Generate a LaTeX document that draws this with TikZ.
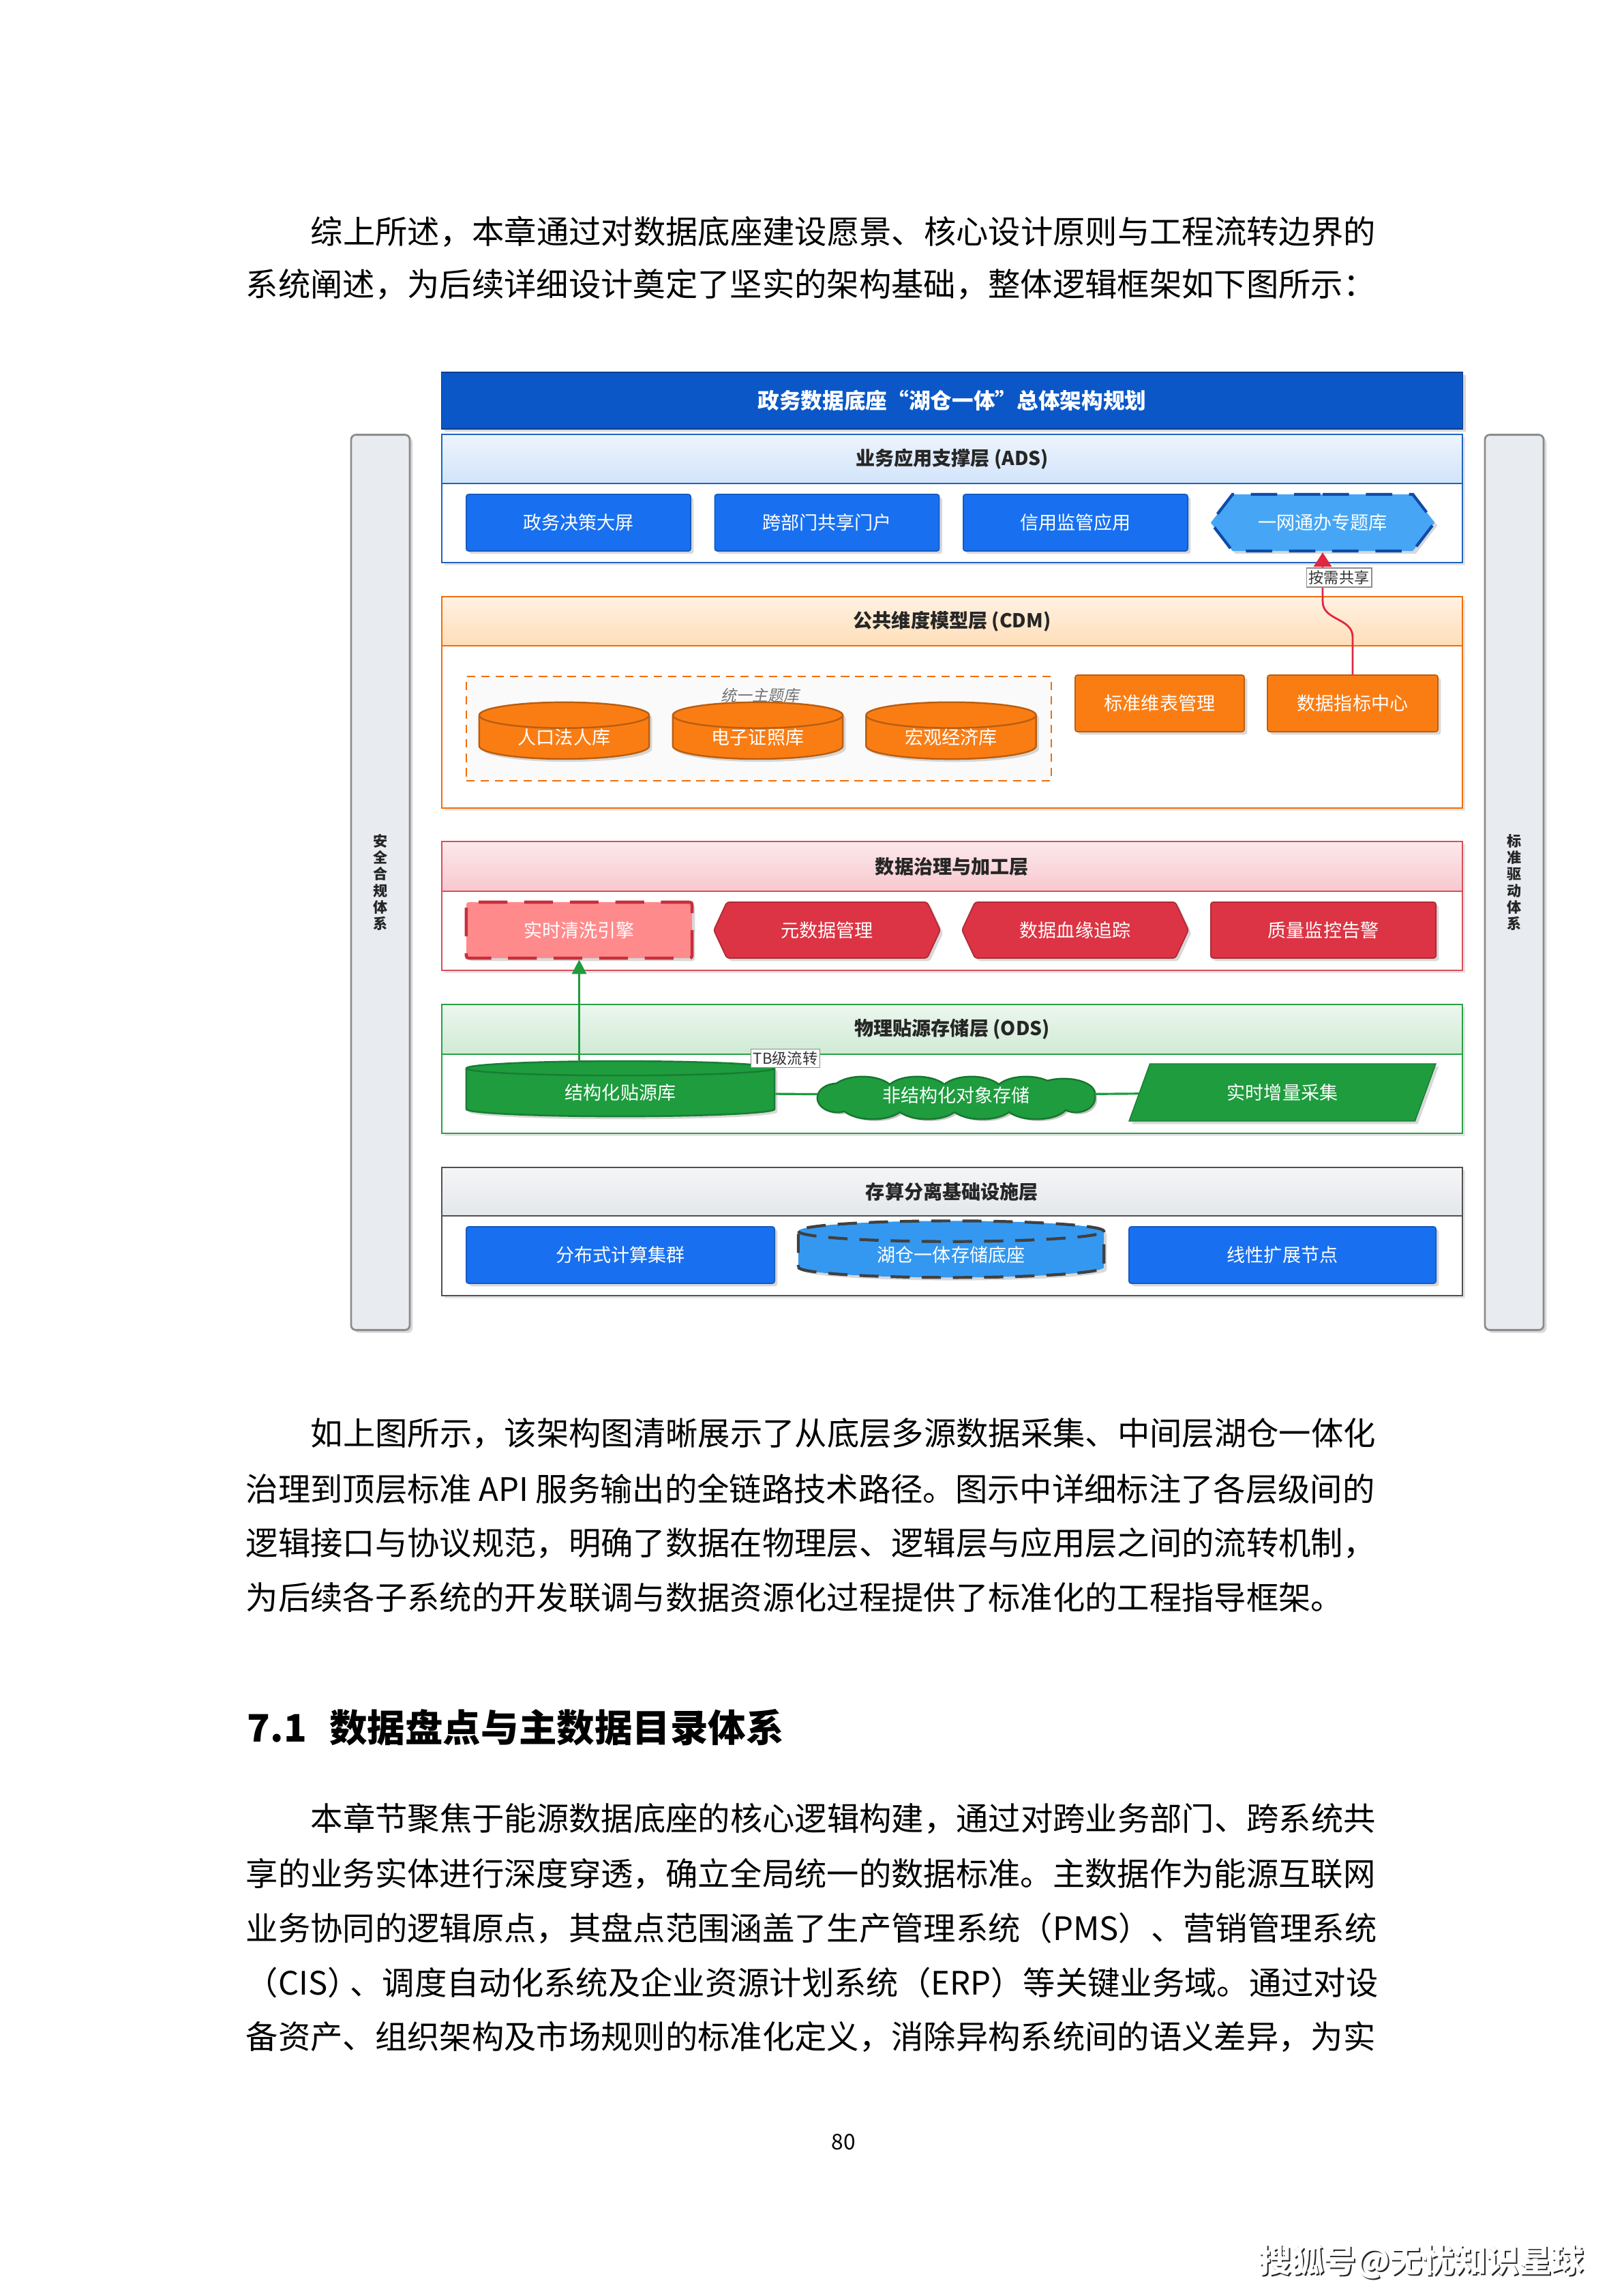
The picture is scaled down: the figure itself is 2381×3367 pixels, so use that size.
\documentclass[tikz,border=0pt]{standalone}
\usepackage{fontspec}
\setmainfont{Noto Sans CJK SC}
\newfontfamily\cjkslant[FakeSlant=0.2]{Noto Sans CJK SC}
\usetikzlibrary{positioning,shapes.geometric,shapes.symbols,arrows.meta,calc,shadows}
\definecolor{titleblue}{RGB}{11,87,200}
\definecolor{appblue}{RGB}{24,112,240}
\definecolor{adsline}{RGB}{30,100,190}
\definecolor{adshead}{RGB}{210,228,250}
\definecolor{hexblue}{RGB}{70,166,245}
\definecolor{hexline}{RGB}{15,75,170}
\definecolor{cdmline}{RGB}{240,110,10}
\definecolor{cdmhead}{RGB}{255,222,184}
\definecolor{cdmfill}{RGB}{250,125,20}
\definecolor{govline}{RGB}{215,80,90}
\definecolor{govhead}{RGB}{247,200,206}
\definecolor{govfill}{RGB}{220,52,68}
\definecolor{cleanfill}{RGB}{255,138,140}
\definecolor{odsline}{RGB}{40,160,70}
\definecolor{odshead}{RGB}{208,234,213}
\definecolor{odsfill}{RGB}{30,156,62}
\definecolor{infline}{RGB}{80,80,80}
\definecolor{infhead}{RGB}{228,231,235}
\definecolor{lakeblue}{RGB}{52,152,240}
\definecolor{sidefill}{RGB}{232,236,240}
\definecolor{shareline}{RGB}{222,40,66}
\newcommand{\boxfont}{\fontsize{7.7pt}{9pt}\selectfont}
% layer frame: top, header bottom, bottom, colour prefix, name, label
\newcommand{\archlayer}[6]{%
  \fill[white,drop shadow={opacity=0.2,shadow xshift=1.2pt,shadow yshift=-1.2pt}] (648,#1) rectangle (2145,#3);%
  \shade[top color=#4head!40,bottom color=#4head] (648,#1) rectangle (2145,#2);%
  \draw[#4line,line width=0.7pt] (648,#1) rectangle (2145,#3) (648,#2) -- (2145,#2);%
  \node[layerhead] (#5) at (1396.5,{0.5*(#1+#2)}) {#6};}

\begin{document}
\begin{tikzpicture}[x=0.01cm,y=-0.01cm,
  bodyline/.style={anchor=west,inner sep=0pt,font=\fontsize{13.46pt}{16pt}\selectfont},
  layerhead/.style={font=\fontsize{8pt}{10pt}\selectfont\bfseries,text=black!85},
  boxshadow/.style={drop shadow={opacity=0.3,shadow xshift=1.2pt,shadow yshift=-1.2pt}},
  appbox/.style={rectangle,rounded corners=1pt,fill=appblue,draw=appblue!80!black,line width=0.5pt,
    text=white,font=\boxfont,minimum height=0.83cm,inner sep=0pt,boxshadow},
  hexbox/.style={signal,signal to=west and east,signal pointer angle=105,fill=hexblue,draw=hexline,
    line width=1.2pt,dash pattern=on 11pt off 7pt,minimum width=3.28cm,minimum height=0.83cm,
    text=white,font=\boxfont,inner sep=0pt,boxshadow},
  groupbox/.style={draw=cdmline,fill=black!2,line width=0.6pt,dash pattern=on 3.5pt off 2.5pt},
  cdmdb/.style={cylinder,shape border rotate=90,aspect=0.28,minimum width=2.49cm,minimum height=0.83cm,
    fill=cdmfill,draw=cdmfill!75!black,line width=0.7pt,text=white,font=\boxfont,inner sep=0pt,boxshadow},
  cdmbox/.style={appbox,fill=cdmfill,draw=cdmfill!75!black},
  govbox/.style={appbox,fill=govfill,draw=govfill!80!black,minimum width=3.3cm,minimum height=0.82cm},
  govsig/.style={govbox,signal,signal to=west and east,signal pointer angle=130,minimum width=3.32cm},
  cleanbox/.style={govbox,fill=cleanfill,draw=govfill!90!black,line width=1.3pt,
    dash pattern=on 12pt off 7pt,minimum width=3.31cm},
  odsdb/.style={cdmdb,aspect=0.13,minimum width=4.52cm,minimum height=0.81cm,fill=odsfill,draw=odsfill!80!black},
  cloudtext/.style={inner sep=0pt,minimum width=4.05cm,minimum height=0.64cm,text=white,font=\boxfont},
  odspara/.style={trapezium,trapezium left angle=63,trapezium right angle=117,trapezium stretches=true,
    minimum width=4.5cm,minimum height=0.84cm,fill=odsfill,draw=odsfill!80!black,text=white,font=\boxfont,
    inner sep=0pt,boxshadow},
  lakedb/.style={cdmdb,aspect=0.14,minimum width=4.48cm,minimum height=0.83cm,fill=lakeblue,draw=black!75,
    line width=1.2pt,dash pattern=on 8pt off 5pt},
  sidebar/.style={rectangle,rounded corners=2pt,fill=sidefill,draw=black!45,line width=0.8pt,align=center,
    font=\fontsize{6pt}{6.9pt}\selectfont\bfseries,text=black!85,minimum width=0.86cm,minimum height=13.12cm,boxshadow},
  tag/.style={fill=white,draw=black!45,line width=0.4pt,inner sep=1pt,font=\fontsize{6.3pt}{7pt}\selectfont,text=black!80},
  sharelink/.style={shareline,line width=0.8pt,-{Triangle[length=6pt,width=7.5pt]}},
  growlink/.style={odsfill,line width=0.9pt,-{Triangle[length=6pt,width=6pt]}},
  odslink/.style={odsfill,line width=0.9pt}]
  % --- page ---
  \fill[white] (0,0) rectangle (2381,3367);
  \useasboundingbox (0,0) rectangle (2381,3367);
  % --- text above the figure ---
  \foreach \ly/\lx/\txt in {340/455/{综上所述，本章通过对数据底座建设愿景、核心设计原则与工程流转边界的},
        417/360/{系统阐述，为后续详细设计奠定了坚实的架构基础，整体逻辑框架如下图所示：}}{%
    \node[bodyline] (para\ly) at (\lx,\ly) {\txt};}
  % --- side bars ---
  \node[sidebar] (secbar) at (558,1294) {安\\全\\合\\规\\体\\系};
  \node[sidebar] (stdbar) at (2221,1294) {标\\准\\驱\\动\\体\\系};
  % --- title ---
  \node[fill=titleblue,draw=titleblue!70!black,minimum width=14.97cm,minimum height=0.83cm,text=white,
    font=\fontsize{9pt}{11pt}\selectfont\bfseries,boxshadow] (title) at (1396.5,587.5) {政务数据底座“湖仓一体”总体架构规划};
  % --- layers ---
  \archlayer{637}{709}{825}{ads}{adslayer}{业务应用支撑层 (ADS)}
  \archlayer{875}{947}{1185}{cdm}{cdmlayer}{公共维度模型层 (CDM)}
  \archlayer{1234}{1307}{1423}{gov}{govlayer}{数据治理与加工层}
  \archlayer{1473}{1546}{1662}{ods}{odslayer}{物理贴源存储层 (ODS)}
  \archlayer{1712}{1783}{1900}{inf}{inflayer}{存算分离基础设施层}
  % --- ADS ---
  \foreach \nm/\cx/\lab in {dec/848.5/政务决策大屏,portal/1213/跨部门共享门户,credit/1577.5/信用监管应用}{%
    \node[appbox,minimum width=3.29cm] (\nm) at (\cx,766.5) {\lab};}
  \node[hexbox] (onenet) at (1940,766.5) {一网通办专题库};
  % --- CDM ---
  \node[groupbox,minimum width=8.58cm,minimum height=1.53cm] (topics) at (1113,1068.5) {};
  \node[font=\cjkslant\fontsize{6.5pt}{8pt}\selectfont,text=black!55] (topicslab) at (1115,1020) {统一主题库};
  \foreach \nm/\cx/\lab in {people/827.5/人口法人库,license/1111.5/电子证照库,economy/1395/宏观经济库}{%
    \node[cdmdb] (\nm) at (\cx,1081.5) {\lab};}
  \node[cdmbox,minimum width=2.48cm] (stddim) at (1701,1031.5) {标准维表管理};
  \node[cdmbox,minimum width=2.5cm] (metric) at (1984,1031.5) {数据指标中心};
  \draw[sharelink] (metric.north) -- ++(0,-55) .. controls +(0,-28) and +(0,28) .. ($(onenet.south)+(0,72)$) -- (onenet.south);
  \node[tag] (sharetag) at (1964,847) {按需共享};
  % --- governance ---
  \node[cleanbox] (clean) at (849.5,1364) {实时清洗引擎};
  \node[govsig] (meta) at (1213,1364) {元数据管理};
  \node[govsig] (lineage) at (1577,1364) {数据血缘追踪};
  \node[govbox] (quality) at (1941,1364) {质量监控告警};
  % --- ODS ---
  \node[odsdb] (struct) at (910,1602.5) {结构化贴源库};
  % cloud lobes: x/y/x radius/y radius
  \def\puffs{1228/1610/28/20,1265/1602/45/22,1345/1602/45/22,1425/1602/45/22,1505/1602/45/22,1560/1604/45/21,
    1280/1620/45/20,1360/1620/45/20,1440/1620/45/20,1520/1620/45/20,1578/1610/27/20}
  \foreach \px/\py/\rx/\ry in \puffs {\fill[black!22] (\px+4,\py+4) ellipse[x radius={\rx*0.01cm},y radius={\ry*0.01cm}];}
  \foreach \px/\py/\rx/\ry in \puffs {\draw[odsfill!75!black,line width=1.4pt] (\px,\py) ellipse[x radius={\rx*0.01cm},y radius={\ry*0.01cm}];}
  \foreach \px/\py/\rx/\ry in \puffs {\fill[odsfill] (\px,\py) ellipse[x radius={\rx*0.01cm},y radius={\ry*0.01cm}];}
  \fill[odsfill] (1402,1610) ellipse[x radius=1.7cm,y radius=0.2cm];
  \node[cloudtext] (unstruct) at (1402.5,1606) {非结构化对象存储};
  \node[odspara] (incr) at (1881,1602) {实时增量采集};
  \draw[odslink] (struct) -- (unstruct) -- (incr);
  \node[tag] (tbtag) at (1152,1552) {TB级流转};
  \draw[growlink] (clean.south |- struct.90) -- (clean.south);
  % --- infrastructure ---
  \node[appbox,minimum width=4.52cm] (compute) at (910,1840.5) {分布式计算集群};
  \node[lakedb] (lake) at (1395,1840.5) {湖仓一体存储底座};
  \node[appbox,minimum width=4.5cm] (scaleout) at (1881,1840.5) {线性扩展节点};
  % --- text below the figure ---
  \foreach \ly/\lx/\txt in {2102/455/{如上图所示，该架构图清晰展示了从底层多源数据采集、中间层湖仓一体化},
        2183/360/{治理到顶层标准 API 服务输出的全链路技术路径。图示中详细标注了各层级间的},
        2263/360/{逻辑接口与协议规范，明确了数据在物理层、逻辑层与应用层之间的流转机制，},
        2342/360/{为后续各子系统的开发联调与数据资源化过程提供了标准化的工程指导框架。}}{%
    \node[bodyline] (para\ly) at (\lx,\ly) {\txt};}
  \node[anchor=west,inner sep=0pt,font=\fontsize{15.8pt}{18pt}\selectfont\bfseries] (sechead) at (362,2533)
    {7.1\hspace{0.6em}数据盘点与主数据目录体系};
  \foreach \ly/\lx/\txt in {2667/455/{本章节聚焦于能源数据底座的核心逻辑构建，通过对跨业务部门、跨系统共},
        2748/360/{享的业务实体进行深度穿透，确立全局统一的数据标准。主数据作为能源互联网},
        2828/360/{业务协同的逻辑原点，其盘点范围涵盖了生产管理系统（PMS）、营销管理系统},
        2907/360/{（CIS）\kern-0.3em、调度自动化系统及企业资源计划系统（ERP）等关键业务域。通过对设},
        2987/360/{备资产、组织架构及市场规则的标准化定义，消除异构系统间的语义差异，为实}}{%
    \node[bodyline] (para\ly) at (\lx,\ly) {\txt};}
  % --- footer ---
  \node[font=\fontsize{9pt}{10pt}\selectfont] (pagenum) at (1237,3141) {80};
  \node[font=\fontsize{13.5pt}{15pt}\selectfont\bfseries,text=black!85] (sohushade) at (2087,3319) {搜狐号@无忧知识星球};
  \node[font=\fontsize{13.5pt}{15pt}\selectfont\bfseries,text=white] (sohu) at (2085,3317) {搜狐号@无忧知识星球};
\end{tikzpicture}
\end{document}
